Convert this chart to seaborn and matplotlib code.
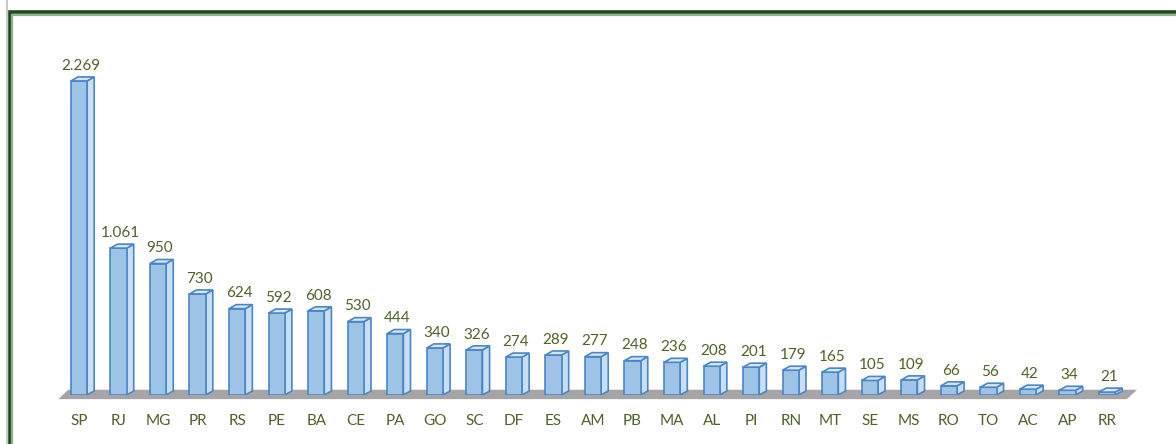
import matplotlib
matplotlib.use("Agg")
import matplotlib.pyplot as plt
from matplotlib.patches import Polygon
from matplotlib.lines import Line2D
import seaborn as sns
import pandas as pd

states = ["SP", "RJ", "MG", "PR", "RS", "PE", "BA", "CE", "PA", "GO", "SC", "DF", "ES", "AM",
          "PB", "MA", "AL", "PI", "RN", "MT", "SE", "MS", "RO", "TO", "AC", "AP", "RR"]
values = [2269, 1061, 950, 730, 624, 592, 608, 530, 444, 340, 326, 274, 289, 277,
          248, 236, 208, 201, 179, 165, 105, 109, 66, 56, 42, 34, 21]

df = pd.DataFrame({"estado": states, "valor": values})

sns.set_theme(style="white")
plt.rcParams['font.family'] = ['Lato', 'DejaVu Sans']

W, H = 1176, 444
fig = plt.figure(figsize=(W / 100, H / 100), dpi=100)
ax = fig.add_axes([59.2 / W, (H - 395) / H, 1067.6 / W, 365 / H])

text_color = "#4F6228"
edge = "#4A86C8"
bar_w = 0.41
sns.barplot(data=df, x="estado", y="valor", color="#9DC3E6", saturation=1,
            edgecolor=edge, linewidth=1.2, width=bar_w, ax=ax, zorder=3)

ax.set_xlim(-0.5, 26.5)
ax.set_ylim(0, 2637)

# floor
n = len(states)
floor = Polygon([(-0.52, -30), (n - 0.5, -30), (n - 0.5 + 0.26, 38), (-0.27, 38)],
                closed=True, facecolor="#A5A5A5", edgecolor="none", zorder=1, clip_on=False)
ax.add_patch(floor)

# 3D faces
dx = 0.18
dy = 29
for p in list(ax.patches):
    if p is floor:
        continue
    x0 = p.get_x()
    w = p.get_width()
    h = p.get_height()
    side = Polygon([(x0 + w, 0), (x0 + w + dx, dy), (x0 + w + dx, h + dy), (x0 + w, h)],
                   closed=True, facecolor="#C9DEF3", edgecolor=edge, linewidth=1.2, zorder=2.9)
    top = Polygon([(x0, h), (x0 + dx, h + dy), (x0 + w + dx, h + dy), (x0 + w, h)],
                  closed=True, facecolor="#D5E6F7", edgecolor=edge, linewidth=1.2, zorder=3.1)
    ax.add_patch(side)
    ax.add_patch(top)

def fmt(v):
    return f"{v:,}".replace(",", ".")

for i, v in enumerate(values):
    ax.annotate(fmt(v), (i + 0.05, v), xytext=(0, 11), textcoords="offset points",
                ha="center", va="center", fontsize=11, color=text_color)

ax.set_xlabel("")
ax.set_ylabel("")
ax.set_yticks([])
ax.tick_params(axis="x", length=0, pad=14, labelsize=11, labelcolor=text_color)
for s in ax.spines.values():
    s.set_visible(False)

# frame lines (figure pixel coordinates)
def fx(px):
    return px / W

def fy(py):
    return 1 - py / H

fig.add_artist(Line2D([fx(6.5), fx(6.5)], [fy(0), fy(H)], color="#BFBFBF", lw=1.2))
fig.add_artist(Line2D([fx(9.5), fx(9.5), fx(W + 5)], [fy(H + 5), fy(12.5), fy(12.5)],
                      color="#1E4A1E", lw=2.6, solid_joinstyle="miter"))
fig.add_artist(Line2D([fx(12), fx(12), fx(W + 5)], [fy(H + 5), fy(15.5), fy(15.5)],
                      color="#8FB08F", lw=1.6, solid_joinstyle="miter"))

fig.savefig("out.png", dpi=100)
